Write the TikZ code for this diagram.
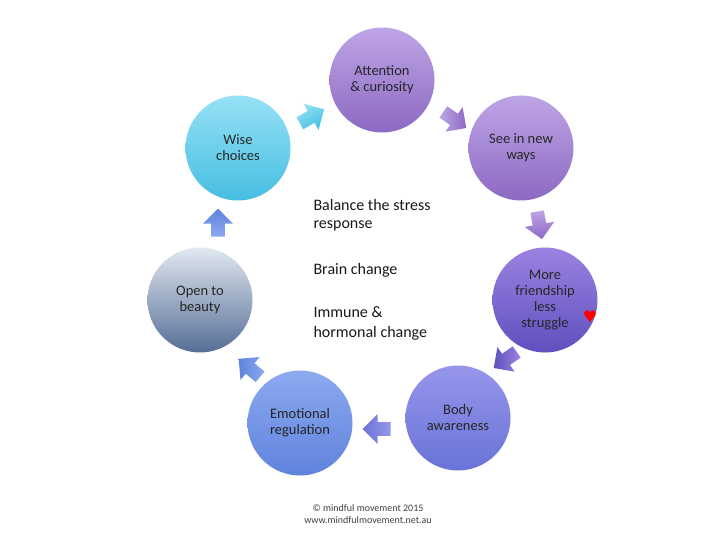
\documentclass[tikz,border=0pt]{standalone}
\usepackage{fontspec}
\setmainfont{Carlito}
\newfontfamily\dejavu{DejaVu Sans}
\usetikzlibrary{shapes.arrows}
\definecolor{pA}{RGB}{190,165,230}\definecolor{pB}{RGB}{140,105,195}
\definecolor{mA}{RGB}{155,130,225}\definecolor{mB}{RGB}{95,80,190}
\definecolor{bA}{RGB}{150,150,235}\definecolor{bB}{RGB}{105,115,215}
\definecolor{eA}{RGB}{140,170,240}\definecolor{eB}{RGB}{95,130,220}
\definecolor{wA}{RGB}{150,225,245}\definecolor{wB}{RGB}{70,190,225}
\definecolor{oA}{RGB}{225,232,240}\definecolor{oM}{RGB}{140,165,195}\definecolor{oB}{RGB}{85,110,150}
\begin{document}
\begin{tikzpicture}[x=1pt,y=-1pt,
  bub/.style={circle,minimum size=105pt,inner sep=0pt,align=center,font=\fontsize{14.5}{16}\selectfont,text=black!85},
  arr/.style={single arrow,minimum height=28pt,minimum width=30pt,single arrow head extend=5pt,inner sep=4pt,draw=none},
  ctext/.style={anchor=west,font=\fontsize{16}{19}\selectfont,text=black!90}]
\useasboundingbox[fill=white] (0,0) rectangle (720,540);
\node[bub,top color=pA,bottom color=pB] (att) at (382,80) {Attention\\\& curiosity};
\node[bub,top color=pA,bottom color=pB] (see) at (521,148) {See in new\\ways};
\node[bub,top color=mA,bottom color=mB] (more) at (545,300) {More\\friendship\\less\\struggle};
\node[bub,top color=bA,bottom color=bB] (body) at (458,418) {Body\\awareness};
\node[bub,top color=eA,bottom color=eB] (emo) at (300,423) {Emotional\\regulation};
\node[bub,top color=oA,middle color=oM,bottom color=oB] (open) at (200,300) {Open to\\beauty};
\node[bub,top color=wA,bottom color=wB] (wise) at (238,148) {Wise\\choices};
\node[text=red,font=\dejavu\fontsize{16}{16}\selectfont] (heart) at (590,317) {♥};
\node[arr,rotate=30,top color=wA,bottom color=wB,shading angle=30] (a1) at (309,118) {};
\node[arr,rotate=-35,left color=pA,right color=pB] (a2) at (452,118) {};
\node[arr,rotate=-80,top color=pA,bottom color=pB] (a3) at (539,222) {};
\node[arr,rotate=-145,left color=mB,right color=mA] (a4) at (508,358) {};
\node[arr,rotate=180,left color=bB,right color=bA] (a5) at (380,429) {};
\node[arr,rotate=140,left color=eB,right color=eA] (a6) at (252,370) {};
\node[arr,rotate=90,top color=eB,bottom color=eA] (a7) at (218,226) {};
\node[ctext] (t1) at (310,205) {Balance the stress};
\node[ctext] (t2) at (310,226) {response};
\node[ctext] (t3) at (310,270) {Brain change};
\node[ctext] (t4) at (310,312) {Immune \&};
\node[ctext] (t5) at (310,333) {hormonal change};
\node[font=\fontsize{10}{12}\selectfont,align=center,text=black!75] (foot) at (368,514) {© mindful movement 2015\\www.mindfulmovement.net.au};
\end{tikzpicture}
\end{document}
